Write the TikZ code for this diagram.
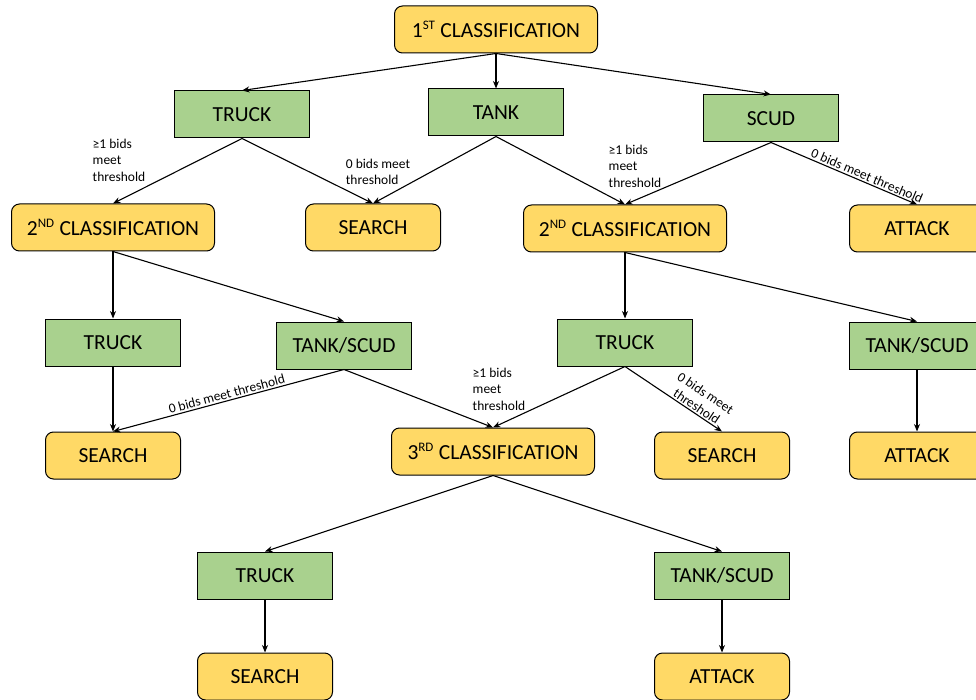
\documentclass[tikz,border=0pt]{standalone}
\usepackage{fontspec}
\setmainfont{Carlito}
\usetikzlibrary{arrows.meta}
\definecolor{yfill}{HTML}{FFD966}
\definecolor{gfill}{HTML}{A9D18E}
\tikzset{
  ybox/.style={draw=black, fill=yfill, rounded corners=8pt, minimum width=135pt, minimum height=47pt, line width=1pt, inner sep=0pt, font=\fontsize{21.5}{24}\selectfont},
  wide/.style={minimum width=203pt},
  gbox/.style={draw=black, fill=gfill, minimum width=135pt, minimum height=47pt, line width=1pt, inner sep=0pt, font=\fontsize{21.5}{24}\selectfont},
  arr/.style={-{Stealth[length=7.5pt,width=6pt]}, line width=1.1pt},
  lbl/.style={font=\fontsize{13.5}{16.5}\selectfont, align=left, inner sep=1pt},
  slbl/.style={font=\fontsize{13.5}{16}\selectfont, sloped, above, inner sep=1.5pt, align=center}
}
\newcommand{\supx}[1]{\textsuperscript{\fontsize{13}{13}\selectfont #1}}
\begin{document}
\begin{tikzpicture}[x=1pt,y=1pt]
\useasboundingbox (0,0) rectangle (976,-700);
\clip (0,0) rectangle (976,-700);
% nodes
\node[ybox,wide] (c1) at (496,-29.5) {1\supx{ST} CLASSIFICATION};
\node[gbox] (truckA) at (242,-114.5) {TRUCK};
\node[gbox] (tankA) at (496,-112.5) {TANK};
\node[gbox] (scudA) at (771,-118.5) {SCUD};
\node[ybox,wide] (c2L) at (113,-227.5) {2\supx{ND} CLASSIFICATION};
\node[ybox] (searchA) at (373,-227.5) {SEARCH};
\node[ybox,wide] (c2R) at (625,-228.5) {2\supx{ND} CLASSIFICATION};
\node[ybox] (attackA) at (917,-228.5) {ATTACK};
\node[gbox] (truckB) at (113,-342.5) {TRUCK};
\node[gbox] (tsB) at (344,-345.5) {TANK/SCUD};
\node[gbox] (truckC) at (625,-342.5) {TRUCK};
\node[gbox] (tsC) at (917,-345.5) {TANK/SCUD};
\node[ybox] (searchB) at (113,-455.5) {SEARCH};
\node[ybox,wide] (c3) at (493,-451.5) {3\supx{RD} CLASSIFICATION};
\node[ybox] (searchC) at (722,-455.5) {SEARCH};
\node[ybox] (attackC) at (917,-455.5) {ATTACK};
\node[gbox] (truckD) at (265,-575.5) {TRUCK};
\node[gbox] (tsD) at (722,-575.5) {TANK/SCUD};
\node[ybox] (searchD) at (265,-676.5) {SEARCH};
\node[ybox] (attackD) at (722,-676.5) {ATTACK};
% labels
\node[lbl] (l1) at (119,-160) {≥1 bids\\meet\\threshold};
\node[lbl] (l2) at (378,-172) {0 bids meet\\threshold};
\node[lbl] (l3) at (635,-166) {≥1 bids\\meet\\threshold};
\node[lbl] (l4) at (499,-389) {≥1 bids\\meet\\threshold};
% connectors
\draw[arr] (c1.south) -- (truckA.north);
\draw[arr] (c1.south) -- (tankA.north);
\draw[arr] (c1.south) -- (scudA.north);
\draw[arr] (truckA.south) -- (c2L.north);
\draw[arr] (truckA.south) -- (searchA.north);
\draw[arr] (tankA.south) -- (searchA.north);
\draw[arr] (tankA.south) -- (c2R.north);
\draw[arr] (scudA.south) -- (c2R.north);
\draw[arr] (scudA.south) -- node[slbl,pos=0.64] {0 bids meet threshold} (attackA.north);
\draw[arr] (c2L.south) -- (truckB.north);
\draw[arr] (c2L.south) -- (tsB.north);
\draw[arr] (truckB.south) -- (searchB.north);
\draw[arr] (tsB.south) -- node[slbl,pos=0.5] {0 bids meet threshold} (searchB.north);
\draw[arr] (tsB.south) -- (c3.north);
\draw[arr] (c2R.south) -- (truckC.north);
\draw[arr] (c2R.south) -- (tsC.north);
\draw[arr] (truckC.south) -- (c3.north);
\draw[arr] (truckC.south) -- node[slbl,pos=0.7] {0 bids meet\\threshold} (searchC.north);
\draw[arr] (tsC.south) -- (attackC.north);
\draw[arr] (c3.south) -- (truckD.north);
\draw[arr] (c3.south) -- (tsD.north);
\draw[arr] (truckD.south) -- (searchD.north);
\draw[arr] (tsD.south) -- (attackD.north);
\end{tikzpicture}
\end{document}
